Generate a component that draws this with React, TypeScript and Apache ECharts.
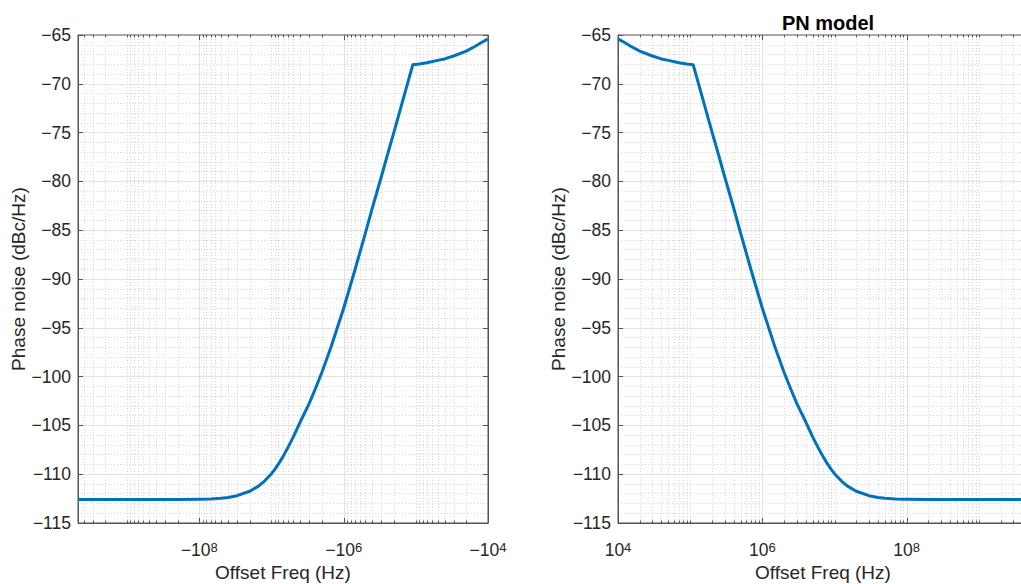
import React, { useEffect, useRef } from 'react';
import * as echarts from 'echarts';

// Offset frequency magnitude (Hz) and phase noise (dBc/Hz)
const offsetFreqHz = [
  1e4, 1.25e4, 1.5e4, 2e4, 3e4, 4e4, 5e4, 7e4, 9e4, 1.1e5,
  1.25e5, 1.5e5, 2e5, 2.5e5, 3e5, 4e5, 5e5, 7e5, 1e6, 1.5e6,
  2e6, 2.5e6, 3e6, 4e6, 5e6, 6e6, 7e6, 8e6, 9e6, 1e7,
  1.25e7, 1.5e7, 2e7, 3e7, 4e7, 5e7, 7e7, 1e8, 2e8, 1e9, 4.8e9,
];
const phaseNoiseDbcHz = [
  -65.4, -65.8, -66.15, -66.65, -67.15, -67.45, -67.6, -67.85, -67.98, -68.05,
  -69.5, -71.6, -74.9, -77.4, -79.5, -82.7, -85.3, -89.1, -93.0, -97.0,
  -99.55, -101.35, -102.75, -104.65, -106.2, -107.35, -108.25, -108.95, -109.5, -109.95,
  -110.7, -111.2, -111.75, -112.2, -112.38, -112.46, -112.53, -112.56, -112.59, -112.6, -112.6,
];

const yMin = -115;
const yMax = -65;
const yStep = 5;
const freqMin = 1e4;
const freqMax = 4.8e9;
const labeledDecades = [4, 6, 8];
const tickDecades = [4, 5, 6, 7, 8, 9];
const tickMultipliers = [1, 2, 3, 4, 5, 6, 7, 8, 9];

const TEXT = '#262626';
const AXIS = '#555555';
const GRID_MAJOR = '#e2e2e2';
const GRID_MINOR = '#d6d6d6';
const LINE = '#0072BD';
const FONT = '"Liberation Sans", Arial, Helvetica, sans-serif';
const MINUS = '\u2212';

const xTicks: [number, number][] = [];
tickDecades.forEach((d) => {
  tickMultipliers.forEach((m) => {
    const f = m * Math.pow(10, d);
    if (f >= freqMin && f <= freqMax) {
      xTicks.push([f, m === 1 && labeledDecades.includes(d) ? 1 : 0]);
    }
  });
});

const exponentOf = (v: number) => {
  const e = Math.log10(v);
  const r = Math.round(e);
  return Math.abs(e - r) < 1e-6 ? r : null;
};

const richLabel = {
  b: { fontSize: 17.5, lineHeight: 18, verticalAlign: 'bottom', color: TEXT, fontFamily: FONT },
  s: { fontSize: 13, lineHeight: 12, padding: [0, 0, 13, 0], verticalAlign: 'top', color: TEXT, fontFamily: FONT },
};

function makeXAxis(gridIndex: number, negative: boolean) {
  return {
    type: 'log',
    logBase: 10,
    gridIndex,
    min: freqMin,
    max: freqMax,
    inverse: negative,
    axisLine: { show: true, lineStyle: { color: AXIS, width: 1 } },
    axisTick: { show: false },
    splitLine: { show: false },
    axisLabel: {
      margin: 18,
      formatter: (v: number) => {
        const e = exponentOf(v);
        if (e === null || !labeledDecades.includes(e)) return '';
        return `{b|${negative ? MINUS + '10' : '10'}}{s|${e}}`;
      },
      rich: richLabel,
    },
    name: 'Offset Freq (Hz)',
    nameLocation: 'middle',
    nameGap: 40,
    nameMoveOverlap: false,
    nameTextStyle: { color: TEXT, fontSize: 19, fontFamily: FONT },
  };
}

function makeYAxes(gridIndex: number) {
  return [
    {
      type: 'value',
      gridIndex,
      position: 'left',
      min: yMin,
      max: yMax,
      interval: yStep,
      axisLine: { show: true, lineStyle: { color: AXIS, width: 1 } },
      axisTick: { show: true, inside: true, length: 5, lineStyle: { color: AXIS } },
      axisLabel: {
        color: TEXT,
        fontSize: 17.5,
        fontFamily: FONT,
        margin: 7,
        formatter: (v: number) => (v < 0 ? MINUS + String(-v) : String(v)),
      },
      splitLine: { show: true, showMinLine: false, showMaxLine: false, lineStyle: { color: GRID_MAJOR, width: 1 } },
      minorTick: { show: false, splitNumber: 5 },
      minorSplitLine: { show: true, lineStyle: { color: GRID_MINOR, width: 1, type: [1, 2] } },
      name: 'Phase noise (dBc/Hz)',
      nameLocation: 'middle',
      nameGap: 49,
      nameTextStyle: { color: TEXT, fontSize: 19, fontFamily: FONT },
    },
    {
      type: 'value',
      gridIndex,
      position: 'right',
      min: yMin,
      max: yMax,
      interval: yStep,
      axisLine: { show: true, lineStyle: { color: AXIS, width: 1 } },
      axisTick: { show: true, inside: true, length: 5, lineStyle: { color: AXIS } },
      axisLabel: { show: false },
      splitLine: { show: false },
    },
  ];
}

function gridSeries(xAxisIndex: number, yAxisIndex: number) {
  return {
    type: 'custom',
    xAxisIndex,
    yAxisIndex,
    silent: true,
    z: 1,
    data: xTicks,
    encode: { x: 0 },
    renderItem: (params: any, api: any) => {
      const f = api.value(0);
      const major = api.value(1) === 1;
      const pb = api.coord([f, yMin]);
      const pt = api.coord([f, yMax]);
      const x = Math.round(pb[0]) + 0.5;
      const len = major ? 5 : 2.5;
      const children: any[] = [];
      if (f !== freqMin) {
        children.push({
          type: 'line',
          shape: { x1: x, y1: pb[1], x2: x, y2: pt[1] },
          style: major
            ? { stroke: GRID_MAJOR, lineWidth: 1 }
            : { stroke: GRID_MINOR, lineWidth: 1, lineDash: [1, 2] },
        });
      }
      children.push({
        type: 'line',
        shape: { x1: x, y1: pb[1], x2: x, y2: pb[1] - len },
        style: { stroke: AXIS, lineWidth: 1 },
      });
      children.push({
        type: 'line',
        shape: { x1: x, y1: pt[1], x2: x, y2: pt[1] + len },
        style: { stroke: AXIS, lineWidth: 1 },
      });
      return { type: 'group', children };
    },
  };
}

function lineSeries(xAxisIndex: number, yAxisIndex: number) {
  return {
    type: 'line',
    xAxisIndex,
    yAxisIndex,
    z: 3,
    showSymbol: false,
    silent: true,
    data: offsetFreqHz.map((f, i) => [f, phaseNoiseDbcHz[i]]),
    lineStyle: { color: LINE, width: 3, join: 'round' },
    itemStyle: { color: LINE },
  };
}

export default function App() {
  const ref = useRef<HTMLDivElement>(null);
  useEffect(() => {
    if (!ref.current) return;
    const chart = echarts.init(ref.current, undefined, { renderer: 'svg' });
    const gridBase = {
      top: 35,
      width: 410,
      height: 488,
      show: true,
      borderColor: AXIS,
      borderWidth: 1,
      backgroundColor: 'transparent',
      containLabel: false,
      outerBoundsMode: 'none',
    };
    const option: any = {
      animation: false,
      backgroundColor: '#ffffff',
      title: {
        text: 'PN model',
        left: 823,
        top: 8,
        textAlign: 'center',
        textStyle: { color: '#000000', fontSize: 20, fontWeight: 'bold', fontFamily: FONT },
      },
      grid: [
        { ...gridBase, left: 78 },
        { ...gridBase, left: 618 },
      ],
      xAxis: [makeXAxis(0, true), makeXAxis(1, false)],
      yAxis: [...makeYAxes(0), ...makeYAxes(1)],
      series: [gridSeries(0, 0), gridSeries(1, 2), lineSeries(0, 0), lineSeries(1, 2)],
    };
    chart.setOption(option);
    return () => chart.dispose();
  }, []);
  return <div ref={ref} style={{ position: 'absolute', left: 0, top: 0, width: 1021, height: 584 }} />;
}
